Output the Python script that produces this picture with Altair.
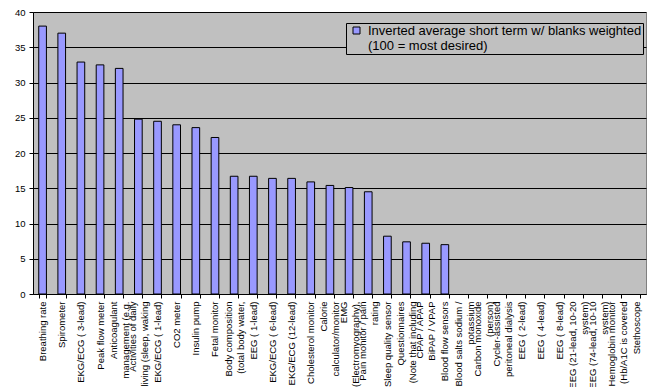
import altair as alt
import pandas as pd

categories = [
    "Breathing rate", "Spirometer", "EKG/ECG ( 3-lead)", "Peak flow meter",
    "Anticoagulant|management (e.g.", "Activities of daily|living (sleep, waking",
    "EKG/ECG ( 1-lead)", "CO2 meter", "Insulin pump", "Fetal monitor",
    "Body composition|(total body water,", "EEG ( 1-lead)", "EKG/ECG ( 6-lead)",
    "EKG/ECG (12-lead)", "Cholesterol monitor", "Calorie|calculator/monitor",
    "EMG|(Electromyography),", "Pain monitor / pain|rating", "Sleep quality sensor",
    "Questionnaires|(Note that including", "CPAP / APAP|BiPAP / VPAP",
    "Blood flow sensors", "Blood salts sodium /|potassium", "Carbon monoxide|(person)",
    "Cycler-assisted|peritoneal dialysis", "EEG ( 2-lead)", "EEG ( 4-lead)",
    "EEG ( 8-lead)", "EEG (21-lead, 10-20|system)", "EEG (74-lead, 10-10|system)",
    "Hemoglobin monitor|(Hb/A1C is covered", "Stethoscope",
]
values = [38.0, 37.0, 32.9, 32.5, 32.0, 24.8, 24.5, 24.0, 23.6, 22.2,
          16.7, 16.7, 16.4, 16.4, 15.9, 15.4, 15.1, 14.5, 8.2, 7.4, 7.2, 7.0]
series_name = "Inverted average short term w/ blanks weighted|(100 = most desired)"
y_ticks = [0, 5, 10, 15, 20, 25, 30, 35, 40]

vals = values + [None] * (len(categories) - len(values))
df = pd.DataFrame({"cat": categories, "val": vals, "series": series_name})
df = df[df["val"].notna()]

FONT = "Liberation Sans"

chart = alt.Chart(df).mark_bar(
    stroke="#000000", strokeWidth=1, fillOpacity=1
).encode(
    x=alt.X("cat:N", sort=None,
            scale=alt.Scale(domain=categories, paddingInner=0.6, paddingOuter=0.3),
            axis=alt.Axis(title=None, labelAngle=270, labelExpr="split(datum.label, '|')",
                          labelFontSize=9.5, labelLineHeight=12, labelLimit=0,
                          labelOffset={"condition": {"test": "indexof(datum.label, '|') >= 0",
                                                     "value": -6}, "value": 0},
                          labelPadding=3, tickSize=4, tickBand="extent",
                          domainColor="#000000", tickColor="#000000",
                          labelColor="#000000", grid=False, labelFont=FONT)),
    y=alt.Y("val:Q", scale=alt.Scale(domain=[0, 40], nice=False, zero=True),
            axis=alt.Axis(title=None, values=y_ticks, grid=True, gridColor="#000000",
                          gridWidth=1, gridOpacity=1, tickSize=4, labelFontSize=9.5,
                          labelPadding=4, domainColor="#000000", tickColor="#000000",
                          labelColor="#000000", labelFont=FONT)),
    color=alt.Color("series:N", scale=alt.Scale(range=["#9999FF"]),
                    legend=alt.Legend(
                        title=None, orient="none", legendX=313, legendY=11,
                        fillColor="#C0C0C0", strokeColor="#000000", padding=1,
                        labelExpr="split(datum.label, '|')", labelFontSize=13,
                        labelLimit=0, labelFont=FONT,
                        labelColor="#000000", labelOffset=5, symbolOffset=3,
                        symbolType="square",
                        symbolSize=49, symbolStrokeColor="#000000",
                        symbolStrokeWidth=1, symbolOpacity=1)),
).properties(
    width=613, height=282,
    autosize=alt.AutoSizeParams(type="none"),
    padding={"left": 33, "top": 12, "right": 3, "bottom": 93},
    background="#FFFFFF",
).configure_view(
    fill="#C0C0C0", stroke="#808080", strokeWidth=1
)

chart.save("out.html", embed_options={"renderer": "svg", "actions": False})
